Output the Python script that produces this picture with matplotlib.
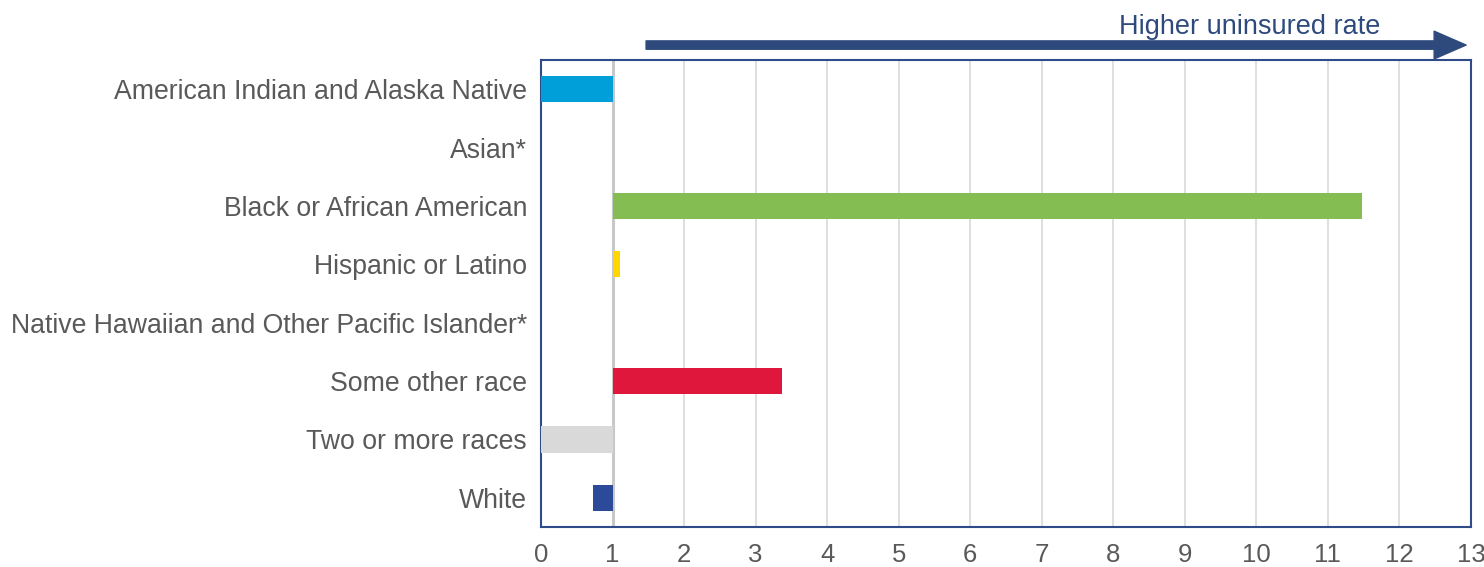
import matplotlib
matplotlib.use("Agg")
import matplotlib.pyplot as plt
from matplotlib.patches import FancyArrowPatch

categories = ["American Indian and Alaska Native", "Asian*", "Black or African American",
              "Hispanic or Latino", "Native Hawaiian and Other Pacific Islander*",
              "Some other race", "Two or more races", "White"]
values = [0.0, None, 11.48, 1.11, None, 3.37, 0.0, 0.72]
colors = ["#009FD9", "#FFFFFF", "#84BD51", "#FFD700", "#FFFFFF", "#E0173C", "#D9D9D9", "#2B4A9A"]
baseline = 1.0
xticks = list(range(0, 14))

plt.rcParams['font.family'] = ['Liberation Sans', 'DejaVu Sans']

fig = plt.figure(figsize=(14.84, 5.67), dpi=100)
ax = fig.add_axes([541/1484, 1-527/567, (1471-541)/1484, (527-60)/567])

n = len(categories)
ypos = list(range(n))
for y, v, c in zip(ypos, values, colors):
    if v is None:
        continue
    ax.barh(y, v - baseline, left=baseline, height=0.45, color=c, zorder=3)

ax.set_ylim(n - 0.5, -0.5)
ax.set_xlim(0, 13)
ax.set_xticks(xticks)
ax.set_yticks(ypos)
ax.set_yticklabels(categories)
ax.tick_params(axis='y', length=0, labelsize=19.2, labelcolor="#595959", pad=10)
ax.tick_params(axis='x', length=0, labelsize=18.5, labelcolor="#595959", pad=11.5)
ax.grid(axis='x', color="#D9D9D9", lw=1.2, zorder=0)
ax.axvline(baseline, color="#C8C8C8", lw=2.2, zorder=2)
for s in ax.spines.values():
    s.set_color("#2F4B8A")
    s.set_linewidth(1.5)

arrow = FancyArrowPatch((1.43, 1.032), (12.97, 1.032), transform=ax.get_xaxis_transform(),
                        arrowstyle="simple,head_width=20,head_length=23,tail_width=6",
                        mutation_scale=1, color="#2E4A7D", clip_on=False)
ax.add_patch(arrow)
ax.text(9.9, 1.07, "Higher uninsured rate", transform=ax.get_xaxis_transform(),
        ha='center', va='center', fontsize=19.5, color="#2E4A7D")

fig.savefig("out.png", dpi=100)
